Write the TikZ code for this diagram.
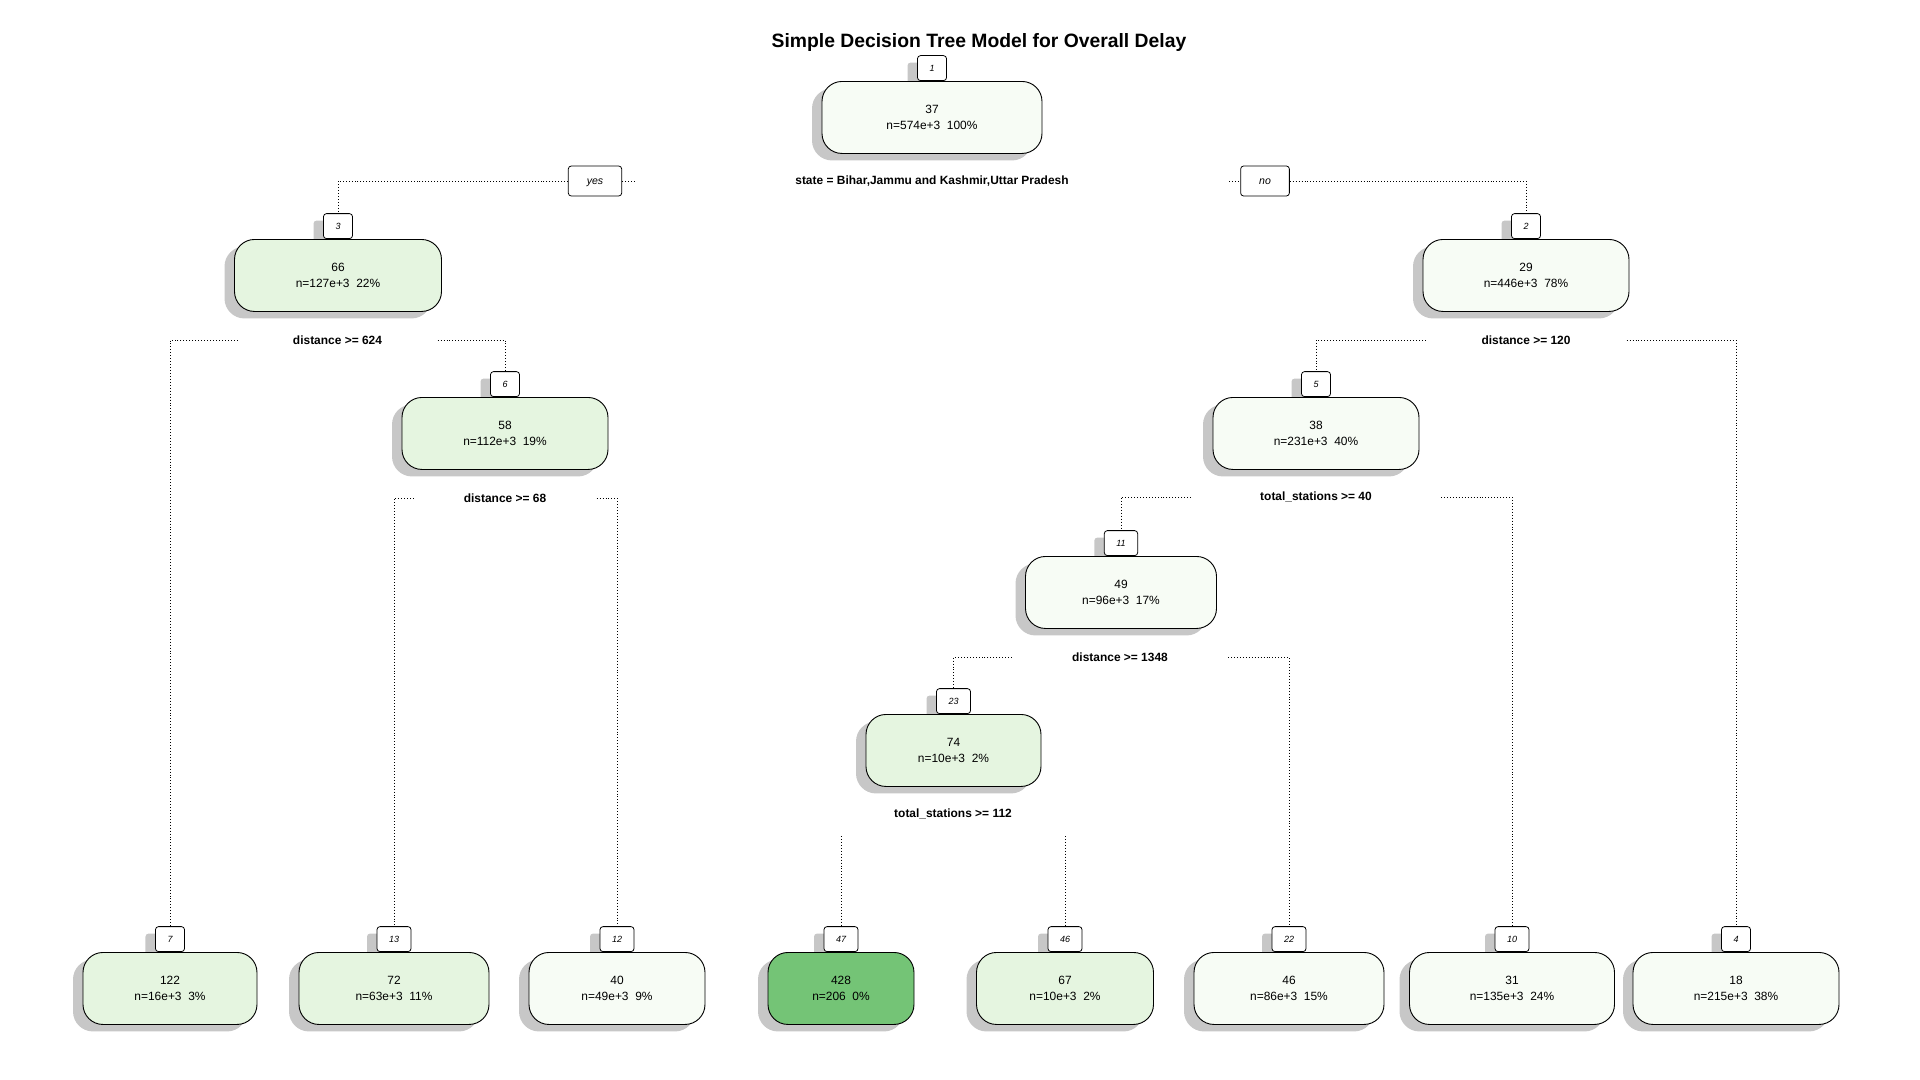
\documentclass[tikz,border=0pt]{standalone}
\usepackage{fontspec}
\setmainfont{Liberation Sans}
\usetikzlibrary{positioning, shadows}

\newdimen\unitpx
\unitpx=0.05cm

\definecolor{palegreen}{HTML}{F7FCF5}
\definecolor{lightgreen}{HTML}{E5F5E0}
\definecolor{midgreen}{HTML}{74C476}

\tikzset{
    boxshadow/.style={drop shadow={shadow xshift=-10\unitpx, shadow yshift=-7\unitpx, fill=black!22, opacity=1}},
    nodebox/.style={rectangle, draw, line width=1.3pt, rounded corners=20\unitpx, fill=#1,
        minimum height=72\unitpx, inner sep=0pt, align=center,
        font=\fontsize{17pt}{22.5pt}\selectfont, boxshadow},
    tagbox/.style={rectangle, draw, line width=1.1pt, rounded corners=3\unitpx, fill=white,
        minimum width=25\unitpx, minimum height=25\unitpx, inner xsep=12\unitpx, inner ysep=0pt,
        anchor=south, font=\itshape\fontsize{12.8pt}{14pt}\selectfont, boxshadow},
    splitlab/.style={rectangle, minimum height=44\unitpx, inner sep=0pt,
        font=\bfseries\fontsize{17pt}{20pt}\selectfont},
    yesno/.style={rectangle, draw, line width=1.1pt, rounded corners=3\unitpx, fill=white,
        minimum height=30\unitpx, inner xsep=18.5\unitpx, inner ysep=0pt,
        text height=0.9em, text depth=0pt,
        font=\itshape\fontsize{15pt}{17pt}\selectfont},
    branch/.style={line width=1.2pt, dash pattern=on 1.2pt off 3pt}
}

\begin{document}
\begin{tikzpicture}[x=\unitpx, y=-\unitpx]
\useasboundingbox (0,0) rectangle (1920,1080);

\node (title) at (979,47) [anchor=base, font=\bfseries\fontsize{27.5pt}{30pt}\selectfont] {Simple Decision Tree Model for Overall Delay};

% node numbers sit on top of the boxes
\begin{scope}[every node/.style={tagbox}]
    \node (t1) at (932, 81) {1};
    \node (t3) at (338, 239) {3};
    \node (t2) at (1526, 239) {2};
    \node (t6) at (505, 397) {6};
    \node (t5) at (1316, 397) {5};
    \node (t11) at (1121, 556) {11};
    \node (t23) at (953.5, 714) {23};
    \node (t7) at (170, 952) {7};
    \node (t13) at (394, 952) {13};
    \node (t12) at (617, 952) {12};
    \node (t47) at (841, 952) {47};
    \node (t46) at (1065, 952) {46};
    \node (t22) at (1289, 952) {22};
    \node (t10) at (1512, 952) {10};
    \node (t4) at (1736, 952) {4};
\end{scope}

\node (n1) [nodebox=palegreen, minimum width=220\unitpx, below=0pt of t1] {37\\n=574e+3\ \ 100\%};
\node (n3) [nodebox=lightgreen, minimum width=207\unitpx, below=0pt of t3] {66\\n=127e+3\ \ 22\%};
\node (n2) [nodebox=palegreen, minimum width=206\unitpx, below=0pt of t2] {29\\n=446e+3\ \ 78\%};
\node (n6) [nodebox=lightgreen, minimum width=206\unitpx, below=0pt of t6] {58\\n=112e+3\ \ 19\%};
\node (n5) [nodebox=palegreen, minimum width=206\unitpx, below=0pt of t5] {38\\n=231e+3\ \ 40\%};
\node (n11) [nodebox=palegreen, minimum width=191\unitpx, below=0pt of t11] {49\\n=96e+3\ \ 17\%};
\node (n23) [nodebox=lightgreen, minimum width=175\unitpx, below=0pt of t23] {74\\n=10e+3\ \ 2\%};
\node (n7) [nodebox=lightgreen, minimum width=174\unitpx, below=0pt of t7] {122\\n=16e+3\ \ 3\%};
\node (n13) [nodebox=lightgreen, minimum width=190\unitpx, below=0pt of t13] {72\\n=63e+3\ \ 11\%};
\node (n12) [nodebox=palegreen, minimum width=176\unitpx, below=0pt of t12] {40\\n=49e+3\ \ 9\%};
\node (n47) [nodebox=midgreen, minimum width=146\unitpx, below=0pt of t47] {428\\n=206\ \ 0\%};
\node (n46) [nodebox=lightgreen, minimum width=177\unitpx, below=0pt of t46] {67\\n=10e+3\ \ 2\%};
\node (n22) [nodebox=palegreen, minimum width=190\unitpx, below=0pt of t22] {46\\n=86e+3\ \ 15\%};
\node (n10) [nodebox=palegreen, minimum width=205\unitpx, below=0pt of t10] {31\\n=135e+3\ \ 24\%};
\node (n4) [nodebox=palegreen, minimum width=206\unitpx, below=0pt of t4] {18\\n=215e+3\ \ 38\%};

\begin{scope}[every node/.style={splitlab}]
    \node (s1) at (932, 181) [minimum width=594\unitpx] {state = Bihar,Jammu and Kashmir,Uttar Pradesh};
    \node (s3) at (337.5, 340) [minimum width=200\unitpx] {distance >= 624};
    \node (s2) at (1526, 340) [minimum width=201\unitpx] {distance >= 120};
    \node (s6) at (505, 498) [minimum width=183\unitpx] {distance >= 68};
    \node (s5) at (1316, 497) [minimum width=250\unitpx] {total\_stations >= 40};
    \node (s11) at (1120, 657) [minimum width=216\unitpx] {distance >= 1348};
    \node (s23) at (953, 814) [minimum width=224\unitpx] {total\_stations >= 112};
\end{scope}

\node (yes) at (595, 181) [yesno] {yes};
\node (no) at (1265, 181) [yesno] {no};

\begin{scope}[every edge/.style={draw, branch, to path={-| (\tikztotarget)}}]
    \path (s1.west) edge (yes.east);
    \path (yes.west) edge (t3.north);
    \path (s1.east) edge (no.west);
    \path (no.east) edge (t2.north);

    \path (s3.west) edge (t7.north);
    \path (s3.east) edge (t6.north);
    \path (s2.west) edge (t5.north);
    \path (s2.east) edge (t4.north);

    \path (s6.west) edge (t13.north);
    \path (s6.east) edge (t12.north);
    \path (s5.west) edge (t11.north);
    \path (s5.east) edge (t10.north);

    \path (s11.west) edge (t23.north);
    \path (s11.east) edge (t22.north);
    \path (s23.south west) edge (t47.north);
    \path (s23.south east) edge (t46.north);
\end{scope}
\end{tikzpicture}
\end{document}
